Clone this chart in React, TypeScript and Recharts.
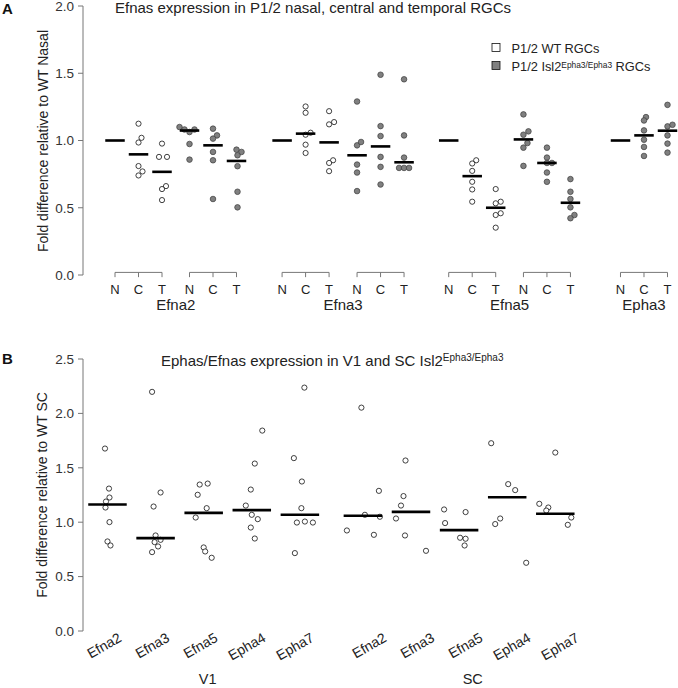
import React from 'react';
import { ScatterChart, Scatter, XAxis, YAxis, ReferenceLine } from 'recharts';

const FONT = '"Liberation Sans", Arial, Helvetica, sans-serif';

// ---------- Panel A: Efnas in P1/2 nasal, central and temporal RGCs ----------
const regionsA = ['N', 'C', 'T'];
const genesA = ['Efna2', 'Efna3', 'Efna5', 'Epha3'];

// per region [N, C, T]; WT nasal is the reference so only its median bar shows
const efna2Wt = [[], [1.125, 1.02, 0.985, 0.81, 0.77, 0.74], [0.977, 0.878, 0.878, 0.661, 0.639, 0.557]];
const efna2WtMedian = [1, 0.897, 0.767];
const efna2Mut = [[1.1, 1.082, 1.063, 1.082, 0.974, 0.858], [1.088, 1.038, 1.014, 0.915, 0.853, 0.565], [0.932, 0.915, 0.89, 0.809, 0.619, 0.503]];
const efna2MutMedian = [1.074, 0.964, 0.848];
const efna3Wt = [[], [1.253, 1.206, 1.043, 1.058, 0.969, 0.907], [1.218, 1.12, 1.137, 0.853, 0.833, 0.772]];
const efna3WtMedian = [1, 1.051, 0.986];
const efna3Mut = [[1.29, 0.964, 0.989, 0.821, 0.762, 0.624], [1.489, 1.107, 1.033, 0.878, 0.804, 0.673], [1.455, 1.038, 0.873, 0.796, 0.796, 0.796]];
const efna3MutMedian = [0.89, 0.956, 0.838];
const efna5Wt = [[], [0.853, 0.829, 0.774, 0.693, 0.636, 0.545], [0.639, 0.545, 0.533, 0.446, 0.459, 0.352]];
const efna5WtMedian = [1, 0.735, 0.5];
const efna5Mut = [[1.194, 1.068, 1.043, 0.981, 0.947, 0.811], [0.947, 0.873, 0.833, 0.833, 0.762, 0.693], [0.713, 0.619, 0.565, 0.503, 0.446, 0.422]];
const efna5MutMedian = [1.008, 0.833, 0.537];
const epha3Mut = [[], [1.174, 1.149, 1.075, 1.006, 0.952, 0.885], [1.265, 1.105, 1.117, 1.038, 0.977, 0.91]];
const epha3MutMedian = [1, 1.038, 1.073];

// ---------- Panel B: Ephas/Efnas in V1 and SC ----------
const genesB = ['Efna2', 'Efna3', 'Efna5', 'Epha4', 'Epha7'];
const areasB = ['V1', 'SC'];
const v1Efna2 = [1.677, 1.309, 1.227, 1.19, 1.135, 1.001, 0.823, 0.786];
const v1Efna3 = [2.198, 1.273, 1.144, 0.878, 0.838, 0.817, 0.777, 0.725];
const v1Efna5 = [1.346, 1.355, 1.252, 1.129, 1.043, 0.768, 0.731, 0.673];
const v1Epha4 = [1.842, 1.539, 1.3, 1.153, 1.068, 1.028, 0.951, 0.85];
const v1Epha7 = [2.237, 1.589, 1.374, 1.129, 0.997, 1.006, 0.997, 0.716];
const v1Median = [1.163, 0.854, 1.086, 1.111, 1.068];
const scEfna2 = [2.053, 1.288, 1.068, 1.05, 0.924, 0.884];
const scEfna3 = [1.567, 1.24, 1.153, 1.034, 0.878, 0.737];
const scEfna5 = [1.117, 1.093, 0.992, 0.857, 0.848, 0.786];
const scEpha4 = [1.726, 1.35, 1.295, 1.034, 0.983, 0.627];
const scEpha7 = [1.64, 1.169, 1.135, 1.107, 1.043, 0.976];
const scMedian = [1.059, 1.095, 0.927, 1.23, 1.077];

// horizontal jitter of the dots (px)
const efna2WtJitter = [[], [0, 3, 0, 0, 4, 0], [0, -3, 5, 4, 0, 0]];
const efna2MutJitter = [[-10, -5, 0, 5, 0, 0], [0, 4, 0, 0, 0, 0], [0, 5, 1, 1, 1, 1]];
const efna3WtJitter = [[], [0, 0, 0, 5, 0, 0], [0, 0, 5, 4, 0, 0]];
const efna3MutJitter = [[0, 0, 4, 0, 0, 0], [0, 0, 0, 0, 0, 0], [0, 0, 0, -5, 0, 5]];
const efna5WtJitter = [[], [4, 0, 0, 0, 0, 0], [0, 5, 0, 0, 5, 0]];
const efna5MutJitter = [[0, 5, 0, 4, 0, 0], [0, 0, 0, 5, 0, 0], [0, 0, 0, 0, 4, 0]];
const epha3MutJitter = [[], [2, 0, 0, 0, 0, 0], [0, 0, 5, 0, 0, 0]];
const v1Jitter = [
  [-2.5, 1.5, 2, -1.5, -2, 2, 0, 3],
  [-3.5, 5, -2, 0, 5, -1, 2.5, -3.5],
  [-4, 4, -6, 3, -8, 0, 1.5, 8],
  [10.5, 3, -1, -6, 0, 6, -1, 3],
  [4.5, -6, 2, 1.5, -3, 5, 13, -5],
];
const scJitter = [
  [-1.5, 16, 2, 17, -16, 11],
  [-5.5, -7.5, -10, -15, -6, 15],
  [-15, 6.5, -14, 1, 6.5, 5.5],
  [-16, 1, 8, -7, -12, 19],
  [0, -16, -7, -9, 16, 12.5],
];

// ---------- layout ----------
const PX_A = 23.5; // px per slot in panel A
const PX_B = 48.1; // px per slot in panel B
const DOMAIN_A: [number, number] = [-1.362, 23.957];
const DOMAIN_B: [number, number] = [-0.509, 11.861];

const groupsA = [
  { values: efna2Wt, medians: efna2WtMedian, jitter: efna2WtJitter, slot: 0, mutant: false },
  { values: efna2Mut, medians: efna2MutMedian, jitter: efna2MutJitter, slot: 3.17, mutant: true },
  { values: efna3Wt, medians: efna3WtMedian, jitter: efna3WtJitter, slot: 7.11, mutant: false },
  { values: efna3Mut, medians: efna3MutMedian, jitter: efna3MutJitter, slot: 10.3, mutant: true },
  { values: efna5Wt, medians: efna5WtMedian, jitter: efna5WtJitter, slot: 14.2, mutant: false },
  { values: efna5Mut, medians: efna5MutMedian, jitter: efna5MutJitter, slot: 17.38, mutant: true },
  { values: epha3Mut, medians: epha3MutMedian, jitter: epha3MutJitter, slot: 21.51, mutant: true },
];
const geneGroupsA = [[0, 1], [2, 3], [4, 5], [6]];

const dotsA = (mutant: boolean) =>
  groupsA
    .filter(g => g.mutant === mutant)
    .flatMap(g => g.values.flatMap((vals, r) => vals.map((v, k) => ({ x: g.slot + r + (g.jitter[r][k] || 0) / PX_A, y: v }))));
const mediansA = groupsA.flatMap(g => g.medians.map((m, r) => ({ x: g.slot + r, y: m })));
const regionTicksA = groupsA.flatMap(g => regionsA.map((_, r) => g.slot + r));
const regionLabelsA = groupsA.flatMap(() => regionsA);
const geneTicksA = geneGroupsA.map(ids => (groupsA[ids[0]].slot + groupsA[ids[ids.length - 1]].slot + 2) / 2);

const areaSlotB = [0, 5.31];
const labelShiftB = [0, 0.2];
const valuesB = [
  [v1Efna2, v1Efna3, v1Efna5, v1Epha4, v1Epha7],
  [scEfna2, scEfna3, scEfna5, scEpha4, scEpha7],
];
const mediansByAreaB = [v1Median, scMedian];
const jitterB = [v1Jitter, scJitter];
const dotsB = valuesB.flatMap((genes, a) =>
  genes.flatMap((vals, g) => vals.map((v, k) => ({ x: areaSlotB[a] + g + jitterB[a][g][k] / PX_B, y: v })))
);
const mediansB = mediansByAreaB.flatMap((meds, a) => meds.map((m, g) => ({ x: areaSlotB[a] + g, y: m })));
const geneTicksB = areasB.flatMap((_, a) => genesB.map((__, g) => areaSlotB[a] + g + labelShiftB[a]));
const geneLabelsB = areasB.flatMap(() => genesB);
const areaTicksB = areasB.map((_, a) => areaSlotB[a] + 2 + labelShiftB[a]);

// ---------- marks ----------
const openDot = (p: any) => <circle cx={p.cx} cy={p.cy} r={2.6} fill="#fff" stroke="#111" strokeWidth={0.8} />;
const filledDot = (p: any) => <circle cx={p.cx} cy={p.cy} r={2.8} fill="#808080" stroke="#3c3c3c" strokeWidth={0.7} />;
const medianBar = (w: number) => (p: any) =>
  <line x1={p.cx - w / 2} x2={p.cx + w / 2} y1={p.cy} y2={p.cy} stroke="#000" strokeWidth={2.6} />;

const AXIS = '#777';
const INK = '#222';

const RegionTick = (p: any) => (
  <text x={p.x} y={p.y + 19} textAnchor="middle" fontSize={13} fill={INK} fontFamily={FONT}>
    {regionLabelsA[p.index]}
  </text>
);
const GeneTickA = (p: any) => (
  <text x={p.x} y={p.y + 10} textAnchor="middle" fontSize={15} fill={INK} fontFamily={FONT}>
    {genesA[p.index]}
  </text>
);
const GeneTickB = (p: any) => {
  const tx = p.x + 15;
  const ty = p.y + 9.5;
  return (
    <text x={tx} y={ty} textAnchor="end" fontSize={14} fill={INK} fontFamily={FONT} transform={`rotate(-30, ${tx}, ${ty})`}>
      {geneLabelsB[p.index]}
    </text>
  );
};
const AreaTickB = (p: any) => (
  <text x={p.x + 4} y={p.y + 13} textAnchor="middle" fontSize={14.5} fill={INK} fontFamily={FONT}>
    {areasB[p.index]}
  </text>
);

const yTick = { fill: '#333', fontSize: 13.5, fontFamily: FONT };

export default function App() {
  const bracketLines = groupsA.flatMap((g, gi) => [
    <ReferenceLine
      key={`h${gi}`}
      segment={[{ x: g.slot, y: 0.0193 }, { x: g.slot + 2, y: 0.0193 }]}
      stroke={AXIS}
      strokeWidth={1}
      ifOverflow="visible"
    />,
    ...regionsA.map((_, r) => (
      <ReferenceLine
        key={`v${gi}-${r}`}
        segment={[{ x: g.slot + r, y: 0.0193 }, { x: g.slot + r, y: -0.016 }]}
        stroke={AXIS}
        strokeWidth={1}
        ifOverflow="visible"
      />
    )),
  ]);

  return (
    <div style={{ position: 'fixed', left: 0, top: 0, width: 678, height: 688, background: '#fff', overflow: 'hidden' }}>
      <div style={{ position: 'absolute', left: 0, top: 0 }}>
        <ScatterChart width={678} height={340} margin={{ top: 6, right: 0, bottom: 0, left: 0 }}>
          <XAxis
            type="number"
            dataKey="x"
            domain={DOMAIN_A}
            allowDataOverflow
            ticks={regionTicksA}
            interval={0}
            tick={<RegionTick />}
            tickSize={0}
            tickMargin={0}
            axisLine={false}
            tickLine={false}
            height={25}
          />
          <XAxis
            xAxisId="gene"
            type="number"
            dataKey="x"
            domain={DOMAIN_A}
            allowDataOverflow
            ticks={geneTicksA}
            interval={0}
            tick={<GeneTickA />}
            tickSize={0}
            tickMargin={0}
            axisLine={false}
            tickLine={false}
            height={40}
          />
          <YAxis
            type="number"
            dataKey="y"
            domain={[0, 2]}
            allowDataOverflow
            ticks={[0, 0.5, 1, 1.5, 2]}
            interval={0}
            tickFormatter={(v: number) => v.toFixed(1)}
            width={83}
            tickSize={5}
            tickMargin={4}
            axisLine={{ stroke: AXIS }}
            tickLine={{ stroke: AXIS }}
            tick={yTick}
          />
          {bracketLines}
          <Scatter data={dotsA(false)} shape={openDot} isAnimationActive={false} />
          <Scatter data={dotsA(true)} shape={filledDot} isAnimationActive={false} />
          <Scatter data={mediansA} shape={medianBar(19.5)} isAnimationActive={false} />
        </ScatterChart>
      </div>

      <div style={{ position: 'absolute', left: 0, top: 340 }}>
        <ScatterChart width={678} height={348} margin={{ top: 19, right: 0, bottom: 0, left: 0 }}>
          <XAxis
            type="number"
            dataKey="x"
            domain={DOMAIN_B}
            allowDataOverflow
            ticks={geneTicksB}
            interval={0}
            tick={<GeneTickB />}
            tickSize={0}
            tickMargin={0}
            axisLine={false}
            tickLine={false}
            height={40}
          />
          <XAxis
            xAxisId="area"
            type="number"
            dataKey="x"
            domain={DOMAIN_B}
            allowDataOverflow
            ticks={areaTicksB}
            interval={0}
            tick={<AreaTickB />}
            tickSize={0}
            tickMargin={0}
            axisLine={false}
            tickLine={false}
            height={17}
          />
          <YAxis
            type="number"
            dataKey="y"
            domain={[0, 2.5]}
            allowDataOverflow
            ticks={[0, 0.5, 1, 1.5, 2, 2.5]}
            interval={0}
            tickFormatter={(v: number) => v.toFixed(1)}
            width={83}
            tickSize={5}
            tickMargin={4}
            axisLine={{ stroke: AXIS }}
            tickLine={{ stroke: AXIS }}
            tick={yTick}
          />
          <Scatter data={dotsB} shape={openDot} isAnimationActive={false} />
          <Scatter data={mediansB} shape={medianBar(38.5)} isAnimationActive={false} />
        </ScatterChart>
      </div>

      <svg width={678} height={688} style={{ position: 'absolute', left: 0, top: 0, pointerEvents: 'none' }} fontFamily={FONT}>
        <text x={2} y={14} fontSize={15} fontWeight="bold" fill="#111">A</text>
        <text x={115} y={12.5} fontSize={15} fill={INK}>Efnas expression in P1/2 nasal, central and temporal RGCs</text>
        <text transform="translate(48,141) rotate(-90)" textAnchor="middle" fontSize={14} fill={INK}>
          Fold difference relative to WT Nasal
        </text>

        <rect x={492} y={43.5} width={8} height={8} fill="#fff" stroke="#111" strokeWidth={0.8} />
        <text x={511.5} y={52.5} fontSize={12.8} fill={INK}>P1/2 WT RGCs</text>
        <rect x={492} y={61.5} width={8} height={8} fill="#808080" stroke="#111" strokeWidth={0.8} />
        <text x={511.5} y={71} fontSize={12.8} fill={INK}>
          P1/2 Isl2<tspan fontSize={8.4} dy={-3.5}>Epha3/Epha3</tspan>
          <tspan dy={3.5}> RGCs</tspan>
        </text>

        <text x={2} y={364} fontSize={15} fontWeight="bold" fill="#111">B</text>
        <text x={161} y={366} fontSize={15} fill={INK}>
          Ephas/Efnas expression in V1 and SC Isl2<tspan fontSize={10} dy={-5}>Epha3/Epha3</tspan>
        </text>
        <text transform="translate(46.5,495) rotate(-90)" textAnchor="middle" fontSize={14} fill={INK}>
          Fold difference relative to WT SC
        </text>
      </svg>
    </div>
  );
}
